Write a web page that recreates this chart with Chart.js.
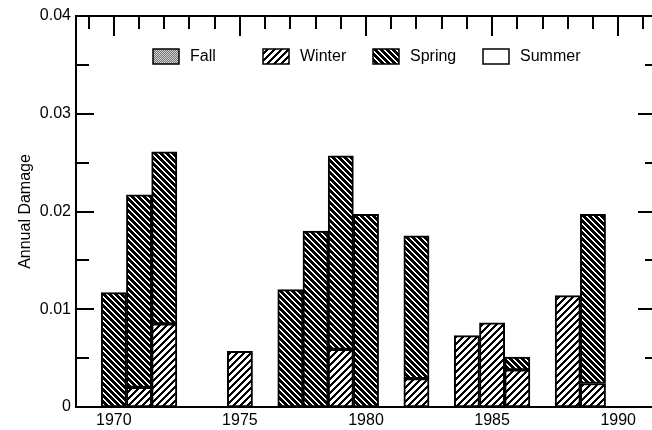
<!DOCTYPE html>
<html><head><meta charset="utf-8">
<script src="https://cdn.jsdelivr.net/npm/chart.js@4.4.0/dist/chart.umd.min.js"></script>
<style>
html,body{margin:0;padding:0;overflow:hidden;background:#fff;}
#wrap{width:656px;height:430px;position:relative;}
</style></head><body>
<div id="wrap"><canvas id="c"></canvas></div>
<script>
const years  = [1970, 1971, 1972, 1975, 1977, 1978, 1979, 1980, 1982, 1984, 1985, 1986, 1988, 1989];
const fall   = [0, 0, 0, 0, 0, 0, 0, 0, 0, 0, 0, 0, 0, 0];
const winter = [0, 0.0020, 0.0085, 0.0057, 0, 0, 0.0059, 0, 0.0029, 0.0073, 0.0086, 0.0038, 0.0114, 0.0024];
const spring = [0.0117, 0.0197, 0.0176, 0, 0.0120, 0.0180, 0.0198, 0.0197, 0.0146, 0, 0, 0.0013, 0, 0.0173];
const summer = [0, 0, 0, 0, 0, 0, 0, 0, 0, 0, 0, 0, 0, 0];
const seasons = ['Fall', 'Winter', 'Spring', 'Summer'];
const xTickLabels = [1970, 1975, 1980, 1985, 1990];
const yTickLabels = [0, 0.01, 0.02, 0.03, 0.04];
const yLabel = 'Annual Damage';

const FONT = '"Liberation Sans", Arial, Helvetica, sans-serif';

function makePattern(kind) {
  const s = kind === 'winter' ? 7 : 6;
  const cv = document.createElement('canvas');
  cv.width = s; cv.height = s;
  const g = cv.getContext('2d');
  g.fillStyle = '#fff'; g.fillRect(0, 0, s, s);
  for (let i = 0; i < s; i++) for (let j = 0; j < s; j++) {
    let black = false, col = null;
    if (kind === 'fall') col = (i + j) % 2 ? '#777' : '#d0d0d0';
    else if (kind === 'winter') black = ((i + j) % s) < 3;
    else if (kind === 'spring') black = (((i - j) % s) + s) % s < 4;
    if (col) { g.fillStyle = col; g.fillRect(i, j, 1, 1); }
    else if (black) { g.fillStyle = '#000'; g.fillRect(i, j, 1, 1); }
  }
  return g.createPattern(cv, 'repeat');
}

const patterns = {
  Fall: makePattern('fall'),
  Winter: makePattern('winter'),
  Spring: makePattern('spring'),
  Summer: '#ffffff'
};

function series(vals) {
  return years.map((yr, i) => ({ x: yr, y: vals[i] === 0 ? null : vals[i] }));
}

const seriesByName = { Fall: fall, Winter: winter, Spring: spring, Summer: summer };
const stackOrder = ['Winter', 'Spring', 'Fall', 'Summer'];

const datasets = stackOrder.map(name => ({
  label: name,
  data: series(seriesByName[name]),
  backgroundColor: patterns[name],
  borderColor: '#000',
  borderWidth: 2,
  borderSkipped: false,
  barPercentage: 1,
  categoryPercentage: 1
}));

const framePlugin = {
  id: 'frame',
  afterDraw(chart) {
    const { ctx, chartArea: a, scales: { x, y } } = chart;
    ctx.save();
    ctx.strokeStyle = '#000';
    ctx.lineWidth = 2;
    ctx.beginPath();
    ctx.rect(a.left, a.top, a.right - a.left, a.bottom - a.top);
    ctx.stroke();
    for (let yr = Math.ceil(x.min); yr <= x.max; yr++) {
      const px = Math.round(x.getPixelForValue(yr));
      const len = yr % 5 === 0 ? 20 : 13;
      ctx.beginPath(); ctx.moveTo(px, a.top); ctx.lineTo(px, a.top + len); ctx.stroke();
    }
    for (let k = 1; k < 8; k++) {
      const v = k * 0.005;
      const py = Math.round(y.getPixelForValue(v));
      const major = k % 2 === 0;
      ctx.beginPath(); ctx.moveTo(a.left, py); ctx.lineTo(a.left + (major ? 18 : 13), py); ctx.stroke();
      ctx.beginPath(); ctx.moveTo(a.right, py); ctx.lineTo(a.right - (major ? 18 : 11), py); ctx.stroke();
    }
    ctx.font = '16px ' + FONT;
    ctx.textBaseline = 'middle';
    ctx.textAlign = 'left';
    const bx0 = a.left + 77, by = a.top + 33;
    seasons.forEach((name, i) => {
      const bx = bx0 + i * 110;
      ctx.fillStyle = patterns[name];
      ctx.fillRect(bx, by, 26, 15);
      ctx.lineWidth = 1.5;
      ctx.strokeRect(bx, by, 26, 15);
      ctx.fillStyle = '#000';
      ctx.fillText(name, bx + 37, by + 8);
    });
    ctx.restore();
  }
};

new Chart(document.getElementById('c'), {
  type: 'bar',
  data: { datasets },
  options: {
    responsive: true,
    maintainAspectRatio: false,
    animation: false,
    layout: { padding: { top: 16, left: 0, right: 0, bottom: 0 } },
    plugins: { legend: { display: false }, tooltip: { enabled: false } },
    scales: {
      x: {
        type: 'linear',
        stacked: true,
        offset: false,
        min: 1968.5,
        max: 1991.5,
        grid: { display: false, drawTicks: false },
        border: { display: false },
        afterBuildTicks: s => { s.ticks = xTickLabels.map(v => ({ value: v })); },
        afterFit: s => { s.height = 23; },
        ticks: {
          color: '#000',
          font: { family: FONT, size: 16 },
          padding: 4,
          maxRotation: 0,
          autoSkip: false,
          callback: v => String(v)
        }
      },
      y: {
        stacked: true,
        min: 0,
        max: 0.04,
        grid: { display: false, drawTicks: false },
        border: { display: false },
        afterBuildTicks: s => { s.ticks = yTickLabels.map(v => ({ value: v })); },
        afterFit: s => { s.width = 76; },
        ticks: {
          color: '#000',
          font: { family: FONT, size: 16 },
          padding: 5,
          callback: v => (v === 0 ? '0' : Number(v).toFixed(2))
        },
        title: {
          display: true,
          text: yLabel,
          color: '#000',
          font: { family: FONT, size: 16 },
          padding: { top: 16, bottom: 0 }
        }
      }
    }
  },
  plugins: [framePlugin]
});
</script>
</body></html>
